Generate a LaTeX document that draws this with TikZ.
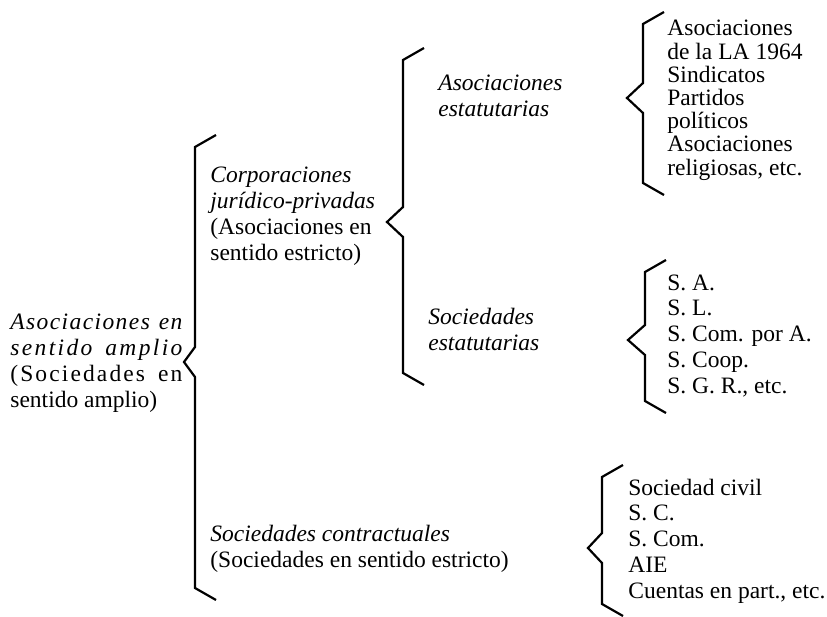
\documentclass[tikz,border=0pt]{standalone}
\usepackage{fontspec}
\setmainfont{Liberation Serif}
\usepackage{tikz}

\tikzset{
    entry/.style={anchor=base west, inner sep=0pt, align=left,
        font=\fontsize{11.75}{12.85}\selectfont},
    tight/.style={font=\fontsize{11.75}{11.6}\selectfont},
    bracket/.style={line width=1.1pt, line join=miter}
}
\newcommand{\spread}[2]{\makebox[86pt][s]{\addfontfeature{LetterSpace=#1}#2}}

\begin{document}
\begin{tikzpicture}[x=0.5pt, y=-0.5pt]
    \useasboundingbox (0,0) rectangle (827,617);

    % Braces: x / top / tip / bottom / tip depth
    \foreach \x/\t/\m/\b/\d in {195/135/362/600/11, 403/48/222/385/16,
                                643/12/98/195/16, 645/260/340/413/17,
                                602/465/548/616/14} {
        \draw[bracket] (\x+21,\t) -- (\x,\t+12) -- (\x,\m-15) -- (\x-\d,\m)
            -- (\x,\m+15) -- (\x,\b-12) -- (\x+21,\b);
    }

    % Main class (anchored on the last line)
    \node[entry] (amplio) at (10,407)
        {\spread{6}{\itshape Asociaciones en}\\
         \spread{10}{\itshape sentido amplio}\\
         \spread{9}{(Sociedades en}\\
         sentido amplio)};

    % Second level
    \node[entry] (corporaciones) at (210,260)
        {\textit{Corporaciones}\\ \textit{jurídico-privadas}\\
         (Asociaciones en\\ sentido estricto)};
    \node[entry] (contractuales) at (210,567)
        {\textit{Sociedades contractuales}\\ (Sociedades en sentido estricto)};

    % Third level
    \node[entry] (asocest) at (438,116)
        {\textit{Asociaciones}\\ \textit{estatutarias}};
    \node[entry] (socest) at (428,350)
        {\textit{Sociedades}\\ \textit{estatutarias}};

    % Lists
    \node[entry, tight] (lista) at (667,175)
        {Asociaciones\\ de la LA 1964\\ Sindicatos\\ Partidos\\ políticos\\
         Asociaciones\\ religiosas, etc.};
    \node[entry] (listb) at (667,393)
        {S. A.\\ S. L.\\ S. Com. por A.\\ S. Coop.\\ S. G. R., etc.};
    \node[entry] (listc) at (628,598)
        {Sociedad civil\\ S. C.\\ S. Com.\\ AIE\\ Cuentas en part., etc.};
\end{tikzpicture}
\end{document}
